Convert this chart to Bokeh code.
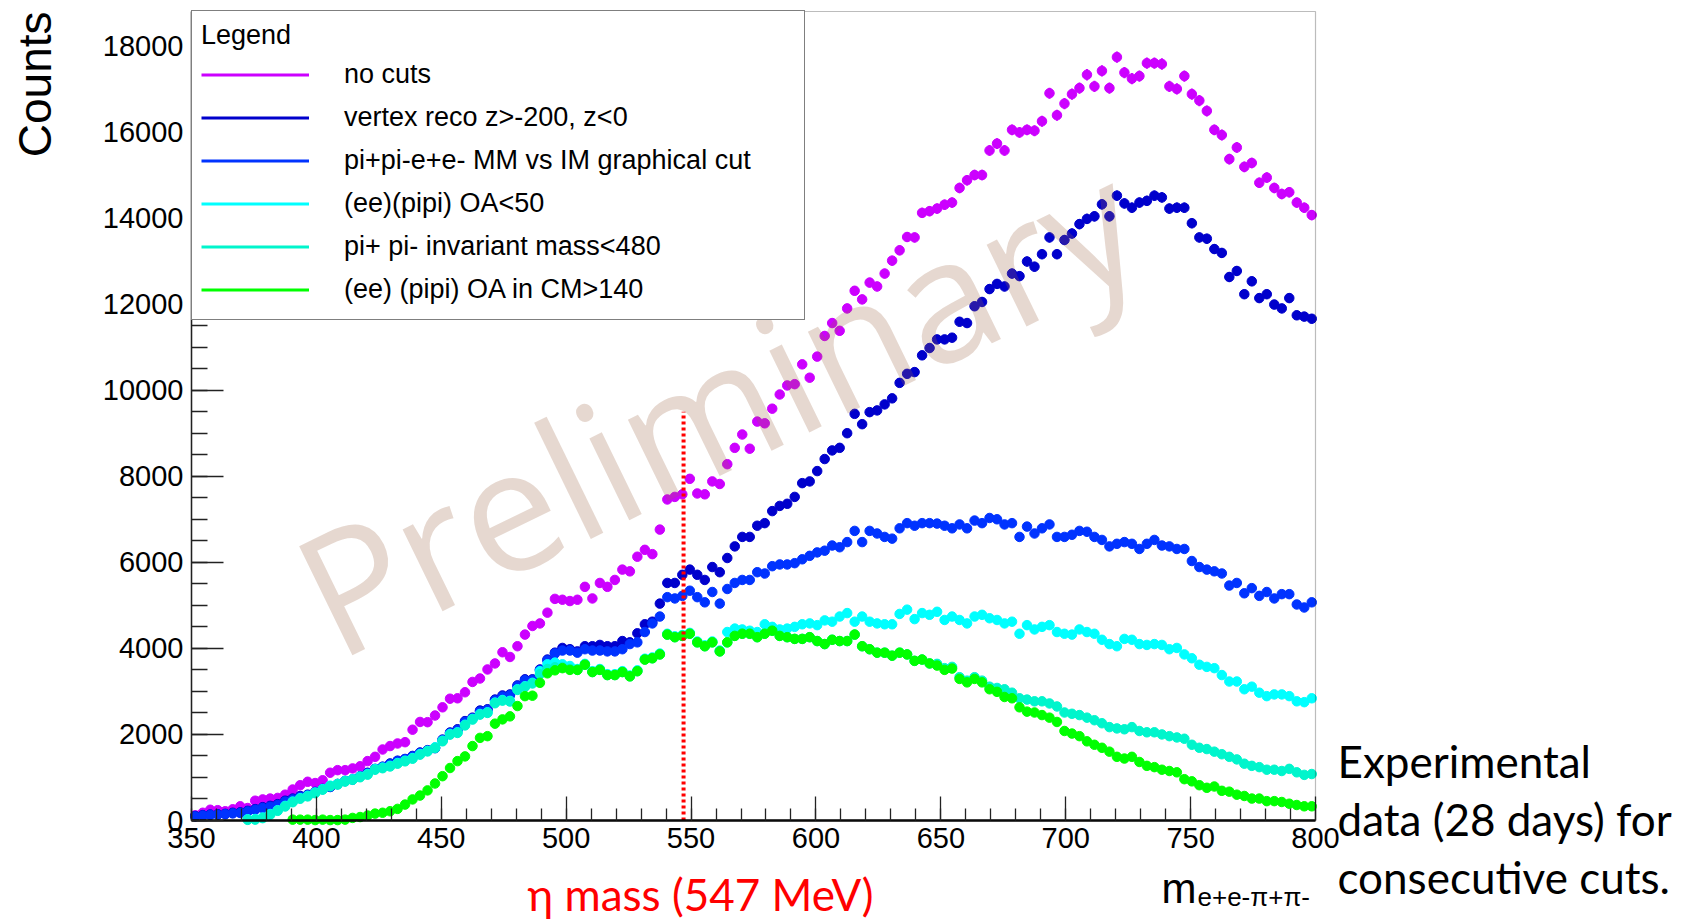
import math
from bokeh.plotting import figure
from bokeh.models import (Legend, LegendItem, Label, SingleIntervalTicker, Range1d, BoxAnnotation)
from bokeh.embed import file_html
from bokeh.resources import INLINE

# ---------------- data ----------------
bin_low = 350.0
bin_width = 3.0
n_bins = 150
mass = [bin_low + bin_width * (i + 0.5) for i in range(n_bins)]

no_cuts = [
    120, 180, 250, 240, 215, 260, 330, 290, 460, 490, 510, 525, 600, 720, 820, 900, 870, 935, 1110, 1170,
    1170, 1210, 1260, 1380, 1480, 1650, 1730, 1790, 1820, 2110, 2290, 2285, 2440, 2630, 2830, 2840, 2980, 3220,
    3300, 3510, 3650, 3910, 3800, 4050, 4320, 4520, 4580, 4830, 5150, 5130, 5100,
    5130, 5430, 5160, 5520, 5430, 5590, 5830, 5790, 6130, 6290, 6190, 6760, 7460, 7520, 7580, 7940, 7600, 7580,
    7880, 7820, 8280, 8660, 8970, 8640, 9270, 9230, 9570, 9900, 10110, 10140, 10600, 10290, 10780, 11260, 11560,
    11380, 11900, 12310, 12110, 12500, 12410, 12710, 13010, 13250, 13560, 13550, 14120, 14160,
    14220, 14310, 14360, 14700, 14880, 15000, 15000, 15570, 15730, 15570, 16050, 15990, 16050, 16030, 16250,
    16900, 16390, 16660, 16880, 17020, 17330, 17060, 17420, 17020, 17740, 17380, 17240, 17300, 17600, 17600,
    17580, 17060, 17000, 17300, 16880, 16730, 16490, 16050, 15930, 15370, 15640, 15190, 15280, 14820, 14940,
    14700, 14560, 14600, 14360, 14240, 14070]

vertex_cut = [
    105, 125, 140, 145, 155, 180, 190, 225, 265, 310, 340, 380, 460, 510, 570, 600, 665, 735, 780, 850, 920,
    955, 1030, 1110, 1200, 1250, 1325, 1390, 1430, 1500, 1580, 1635, 1690, 1880, 2045, 2120, 2310, 2390, 2555,
    2585, 2810, 2905, 2930, 3140, 3280, 3280, 3510, 3740, 3900, 4010, 3980,
    3930, 4050, 4050, 4080, 4050, 4050, 4170, 4140, 4350, 4560, 4620, 5040, 5520, 5520, 5710, 5830, 5710, 5590,
    5890, 5770, 6100, 6370, 6590, 6590, 6850, 6910, 7190, 7310, 7360, 7520, 7840, 7880, 8120, 8400, 8600, 8660,
    9000, 9450, 9210, 9490, 9530, 9670, 9810, 10170, 10380, 10420, 10810, 10980,
    11180, 11180, 11220, 11590, 11560, 11950, 12050, 12350, 12470, 12410, 12710, 12650, 12990, 12870, 13160,
    13550, 13160, 13490, 13640, 13860, 13980, 14040, 14320, 14040, 14520, 14340, 14240, 14360, 14400, 14520,
    14480, 14220, 14240, 14240, 13880, 13550, 13520, 13280, 13190, 12630, 12770, 12230, 12530, 12140, 12230,
    11990, 11900, 12140, 11740, 11710, 11660]

mm_im_cut = [
    95, 115, 130, 135, 145, 165, 175,
    210, 250, 290, 320, 360, 440, 490, 550, 585, 655, 730, 780, 845, 915, 955, 1025, 1100, 1195, 1245, 1315,
    1380, 1425, 1490, 1570,
    1620, 1680, 1865, 2030, 2100, 2290, 2370, 2530, 2570, 2790, 2880, 2910, 3120, 3260, 3260, 3490, 3720, 3880,
    3950, 3950, 3900, 3980, 3950, 3950, 3930, 3930, 3980, 4100, 4140, 4380, 4580, 4740, 5190, 5160, 5220, 5340,
    5190, 5070, 5310, 5040, 5380, 5520, 5590, 5590, 5770, 5740, 5910, 5950, 5950, 5980, 6070, 6150, 6230, 6270,
    6390, 6350, 6470, 6730, 6470, 6730, 6670, 6590, 6550, 6790, 6910, 6850, 6910, 6910,
    6900, 6850, 6790, 6880, 6790, 6970, 6910, 7030, 7000, 6880, 6910, 6590, 6830, 6670, 6790, 6880, 6590, 6590,
    6640, 6730, 6710, 6590, 6520, 6370, 6430, 6470, 6430, 6310, 6430, 6520, 6390, 6370, 6310, 6310, 6030, 5890,
    5830, 5790, 5740, 5460, 5520, 5280, 5400, 5220, 5310, 5160, 5260, 5260, 5020, 4950, 5070]

oa50_cut = [None] * 7 + [
    30, 35, 70, 150, 240, 340, 440, 520, 575, 650, 730, 810, 850, 920, 960, 1020, 1080, 1195, 1230, 1270, 1335,
    1390, 1450, 1545, 1620, 1700, 1855, 2010, 2050, 2225, 2360, 2475, 2515,
    2740, 2800, 2780, 3050, 3120, 3200, 3470, 3630, 3670, 3630, 3590,
    3520, 3640, 3470, 3520, 3400, 3400, 3470, 3370, 3490, 3760, 3790, 3880, 4340, 4280, 4310, 4360, 4160, 4070,
    4160, 3950,
    4380, 4460, 4440, 4410, 4380, 4560, 4500, 4440, 4460, 4500, 4560, 4580, 4540, 4650, 4620, 4740, 4820, 4620,
    4740, 4620, 4580, 4560, 4560, 4800, 4900, 4680, 4820, 4780,
    4850, 4660, 4740, 4660, 4580, 4740, 4780, 4700, 4660, 4580, 4620, 4340, 4540, 4440, 4500, 4540, 4380, 4340,
    4320, 4440, 4380, 4340, 4200, 4100, 4050, 4220, 4200, 4100, 4080, 4100, 4080, 3980, 4010, 3860, 3770, 3620,
    3570, 3540, 3380, 3230, 3230, 3050, 3110, 2970, 2890, 2930, 2930, 2890, 2770, 2750, 2840]

pipi_im_cut = [None] * 7 + [
    15, 20, 55, 135, 225, 325, 425, 505, 560, 635, 715, 795, 835, 905, 945, 1005, 1065, 1180, 1215, 1255, 1320,
    1375, 1435, 1530, 1605, 1685, 1840, 1995, 2035, 2210, 2345, 2460, 2500,
    2725, 2785, 2765, 3035, 3105, 3185,
    3400, 3520, 3560, 3560, 3520,
    3500, 3620, 3450, 3500, 3380, 3380, 3450, 3350, 3470, 3740, 3770, 3860, 4320, 4260, 4290, 4340, 4140, 4050,
    4140, 3930, 4140, 4290, 4340, 4340, 4260, 4340, 4410, 4290, 4260, 4220, 4220, 4260, 4170, 4100, 4200, 4170,
    4170, 4320, 4050, 3980, 3900, 3900, 3830, 3900, 3860, 3710, 3740, 3650,
    3640, 3540, 3570, 3330, 3250, 3330, 3250,
    3110, 3080, 3050, 2970, 2840, 2810, 2770, 2770, 2720, 2650, 2510, 2480, 2450, 2390, 2330, 2260, 2170, 2140,
    2120, 2170, 2080, 2050, 2050, 2000, 1960, 1930, 1900, 1760, 1690, 1660, 1600, 1540, 1480, 1420, 1320, 1270,
    1240, 1180, 1180, 1150, 1200, 1120, 1060, 1080]

oa_cm_cut = [None] * 13 + [
    20, 20, 20, 10, 20, 10, 10, 20, 60, 80, 115, 160, 180, 215, 270, 370, 490, 580, 700, 860, 1030, 1220, 1380,
    1490, 1730, 1920, 1960, 2250, 2350, 2420, 2660, 2890, 2900, 3200, 3420, 3490, 3540, 3500,
    3500, 3620, 3450, 3500, 3380, 3380, 3450, 3350, 3470, 3740, 3770, 3860, 4320, 4260, 4290, 4340, 4140, 4050,
    4140, 3930, 4140, 4290, 4340, 4340, 4260, 4340, 4410, 4290, 4260, 4220, 4220, 4260, 4170, 4100, 4200, 4170,
    4170, 4320, 4050, 3980, 3900, 3900, 3830, 3900, 3860, 3710, 3740, 3650,
    3600, 3500, 3530, 3290, 3210, 3290, 3210, 3050, 2990, 2870, 2840, 2630, 2530, 2510, 2450, 2390, 2290, 2080,
    2020, 1960, 1840, 1760, 1690, 1600, 1480, 1440, 1480, 1360, 1270, 1240, 1180, 1150, 1120, 960, 910, 820, 760,
    790, 690, 670, 600, 570, 510, 510, 450, 450, 430, 390, 360, 330, 330]

series_labels = ["no cuts", "vertex reco z>-200, z<0", "pi+pi-e+e- MM vs IM graphical cut",
                 "(ee)(pipi) OA<50", "pi+ pi- invariant mass<480", "(ee) (pipi) OA in CM>140"]
series_values = [no_cuts, vertex_cut, mm_im_cut, oa50_cut, pipi_im_cut, oa_cm_cut]
series_colors = ["#CC00FF", "#0000CC", "#0033FF", "#00FFFF", "#00F5CC", "#00FF00"]

x_tick_step = 50
y_tick_step = 2000
x_min, x_max = 350.0, 800.0
y_min, y_max = 0.0, 18800.0

eta_mass = 547.0
eta_line_top = 9500.0

for vals in series_values:
    if len(vals) != n_bins:
        raise ValueError("bad length %d" % len(vals))

# ---------------- page geometry (pixels) ----------------
W, H = 1687, 921
FRAME_L, FRAME_R, FRAME_T, FRAME_B = 191, 1315, 11, 820
sx = (FRAME_R - FRAME_L) / (x_max - x_min)
sy = (FRAME_B - FRAME_T) / (y_max - y_min)
x_lo = x_min - FRAME_L / sx
x_hi = x_max + (W - FRAME_R) / sx
y_lo = y_min - (H - FRAME_B) / sy
y_hi = y_max + FRAME_T / sy

def dx(px):
    return x_min + (px - FRAME_L) / sx

def dy(py):
    return y_min + (FRAME_B - py) / sy

p = figure(width=W, height=H, output_backend="svg", toolbar_location=None,
           x_range=Range1d(x_lo, x_hi), y_range=Range1d(y_lo, y_hi),
           min_border=0, min_border_left=0, min_border_right=0, min_border_top=0, min_border_bottom=0,
           background_fill_color="white", border_fill_color="white")
p.xgrid.visible = False
p.ygrid.visible = False
p.outline_line_color = None

AX_FONT = "Liberation Sans"
xa = p.xaxis[0]
xa.fixed_location = y_min
xa.bounds = (x_min, x_max)
xa.ticker = SingleIntervalTicker(interval=x_tick_step, num_minor_ticks=5)
xa.major_tick_in = 24
xa.major_tick_out = 0
xa.minor_tick_in = 12
xa.minor_tick_out = 0
xa.axis_line_width = 2.5
xa.axis_line_color = "black"
xa.major_tick_line_color = "#222222"
xa.minor_tick_line_color = "#222222"
xa.major_tick_line_width = 1.3
xa.minor_tick_line_width = 1.3
xa.major_label_text_font = AX_FONT
xa.major_label_text_font_size = "29px"
xa.major_label_text_color = "black"
xa.major_label_standoff = 7

ya = p.yaxis[0]
ya.fixed_location = x_min
ya.bounds = (y_min, y_max)
ya.ticker = SingleIntervalTicker(interval=y_tick_step, num_minor_ticks=4)
ya.major_tick_in = 32
ya.major_tick_out = 0
ya.minor_tick_in = 16
ya.minor_tick_out = 0
ya.axis_line_width = 1.5
ya.axis_line_color = "#222222"
ya.major_tick_line_color = "#222222"
ya.minor_tick_line_color = "#222222"
ya.major_tick_line_width = 1.3
ya.minor_tick_line_width = 1.3
ya.major_label_text_font = AX_FONT
ya.major_label_text_font_size = "29px"
ya.major_label_text_color = "black"
ya.major_label_standoff = 8

# ---------------- data points with error bars ----------------
legend_items = []
for label, vals, color in zip(series_labels, series_values, series_colors):
    xs = [m for m, v in zip(mass, vals) if v is not None]
    ys = [float(v) for v in vals if v is not None]
    lo = [y - math.sqrt(y) for y in ys]
    hi = [y + math.sqrt(y) for y in ys]
    p.segment(x0=xs, y0=lo, x1=xs, y1=hi, line_color=color, line_width=2)
    p.scatter(x=xs, y=ys, size=9.5, marker="circle", fill_color=color, line_color=color)
    lr = p.line(x=xs[:1], y=ys[:1], line_color=color, line_width=3)
    legend_items.append(LegendItem(label=label, renderers=[lr]))

# eta mass marker
p.segment(x0=[eta_mass], y0=[y_min], x1=[eta_mass], y1=[eta_line_top],
          line_color="#FF0000", line_width=4, line_dash="3 3")

# plot frame box
p.add_layout(BoxAnnotation(left=x_min, right=x_max, bottom=y_min, top=y_max,
                           fill_color=None, fill_alpha=0, line_color="#222222", line_width=1.2))

legend = Legend(items=legend_items, location=(FRAME_L, H - 320), title="Legend",
                title_text_font=AX_FONT, title_text_font_size="27px", title_text_font_style="normal",
                title_text_color="black", title_standoff=3,
                label_text_font=AX_FONT, label_text_font_size="27px", label_text_color="black",
                glyph_width=108, glyph_height=41, label_height=41, label_width=451,
                label_standoff=35, spacing=2, padding=9, margin=0,
                border_line_color="black", border_line_width=1.5,
                background_fill_color="white", background_fill_alpha=1.0)
p.add_layout(legend)

# ---------------- texts ----------------
p.add_layout(Label(x=560, y=9670, text="Preliminary", angle=26, angle_units="deg",
                   text_font="Open Sans", text_font_size="170px", text_color="#9B6343",
                   text_alpha=0.25, text_align="center", text_baseline="middle"))

p.add_layout(Label(x=dx(34), y=dy(11), text="Counts", angle=math.pi / 2,
                   text_font=AX_FONT, text_font_size="46px", text_color="black",
                   text_align="right", text_baseline="alphabetic"))

p.add_layout(Label(x=dx(1196), y=dy(888), text="m", text_font=AX_FONT, text_font_size="42px",
                   text_color="black", text_align="right", text_baseline="alphabetic"))
p.add_layout(Label(x=dx(1197), y=dy(896), text="e+e-\u03c0+\u03c0-", text_font=AX_FONT,
                   text_font_size="26px", text_color="black", text_align="left",
                   text_baseline="alphabetic"))

p.add_layout(Label(x=dx(700), y=dy(893), text="\u03b7 mass (547 MeV)", text_font="Lato",
                   text_font_size="44px", text_color="#FF0000", text_align="center",
                   text_baseline="alphabetic"))

for txt, py in [("Experimental", 760), ("data (28 days) for", 818), ("consecutive cuts.", 876)]:
    p.add_layout(Label(x=dx(1337), y=dy(py), text=txt, text_font="Lato", text_font_size="44px",
                       text_color="black", text_align="left", text_baseline="alphabetic"))

open("out.html", "w").write(file_html(p, INLINE))
